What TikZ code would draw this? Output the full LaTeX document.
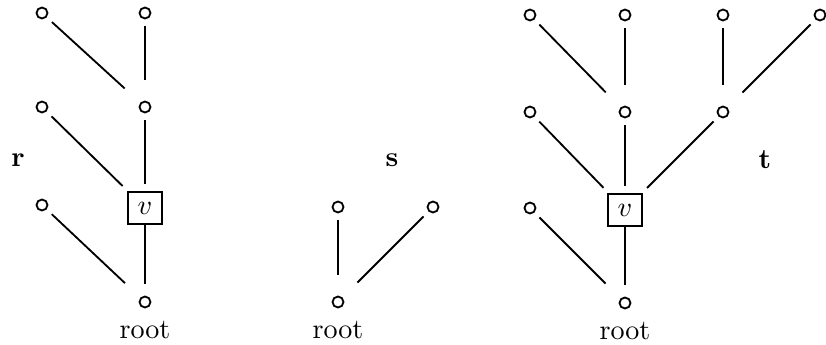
\documentclass[tikz,border=0pt]{standalone}
\usetikzlibrary{positioning}

\begin{document}
\begin{tikzpicture}[x=0.0125cm,y=-0.0125cm,line width=0.65pt,
  dot/.style={circle,draw,inner sep=0pt,minimum size=3.9pt},
  vbox/.style={draw,inner sep=0pt,minimum width=12pt,minimum height=11.5pt},
  link/.style={shorten <=2.5pt,shorten >=7.5pt},
  tobox/.style={shorten <=2.5pt,shorten >=2.5pt}]
  \useasboundingbox (0,0) rectangle (826,345);
  % tree r
  \node[dot] (r1) at (42,13) {};
  \node[dot] (r2) at (145,13) {};
  \node[dot] (r3) at (42,107) {};
  \node[dot] (r4) at (145,107) {};
  \node[dot] (r5) at (42,205) {};
  \node[vbox] (rv) at (145,208) {$v$};
  \node[dot] (r0) at (145,302) {};
  \node[below=1pt of r0] (r0lab) {root};
  \node (rname) at (18,160) {$\mathbf{r}$};
  \draw[link] (r1) -- (r4);
  \draw[link] (r2) -- (r4);
  \draw[tobox] (r3) -- (rv);
  \draw[tobox] (r4) -- (rv);
  \draw[link] (r5) -- (r0);
  \draw[shorten >=4pt] (rv) -- (r0);
  % tree s
  \node[dot] (s1) at (338,207) {};
  \node[dot] (s2) at (433,207) {};
  \node[dot] (s0) at (338,302) {};
  \node[below=1pt of s0] (s0lab) {root};
  \node (sname) at (392,160) {$\mathbf{s}$};
  \draw[link] (s1) -- (s0);
  \draw[link] (s2) -- (s0);
  % tree t
  \node[dot] (t1) at (530,15) {};
  \node[dot] (t2) at (625,15) {};
  \node[dot] (t3) at (723,15) {};
  \node[dot] (t4) at (820,15) {};
  \node[dot] (t5) at (530,112) {};
  \node[dot] (t6) at (625,112) {};
  \node[dot] (t7) at (723,112) {};
  \node[dot] (t8) at (530,208) {};
  \node[vbox] (tv) at (625,210) {$v$};
  \node[dot] (t0) at (625,303) {};
  \node[below=1pt of t0] (t0lab) {root};
  \node (tname) at (765,160) {$\mathbf{t}$};
  \draw[link] (t1) -- (t6);
  \draw[link] (t2) -- (t6);
  \draw[link] (t3) -- (t7);
  \draw[link] (t4) -- (t7);
  \draw[tobox] (t5) -- (tv);
  \draw[tobox] (t6) -- (tv);
  \draw[tobox] (t7) -- (tv);
  \draw[link] (t8) -- (t0);
  \draw[shorten >=4pt] (tv) -- (t0);
\end{tikzpicture}
\end{document}
